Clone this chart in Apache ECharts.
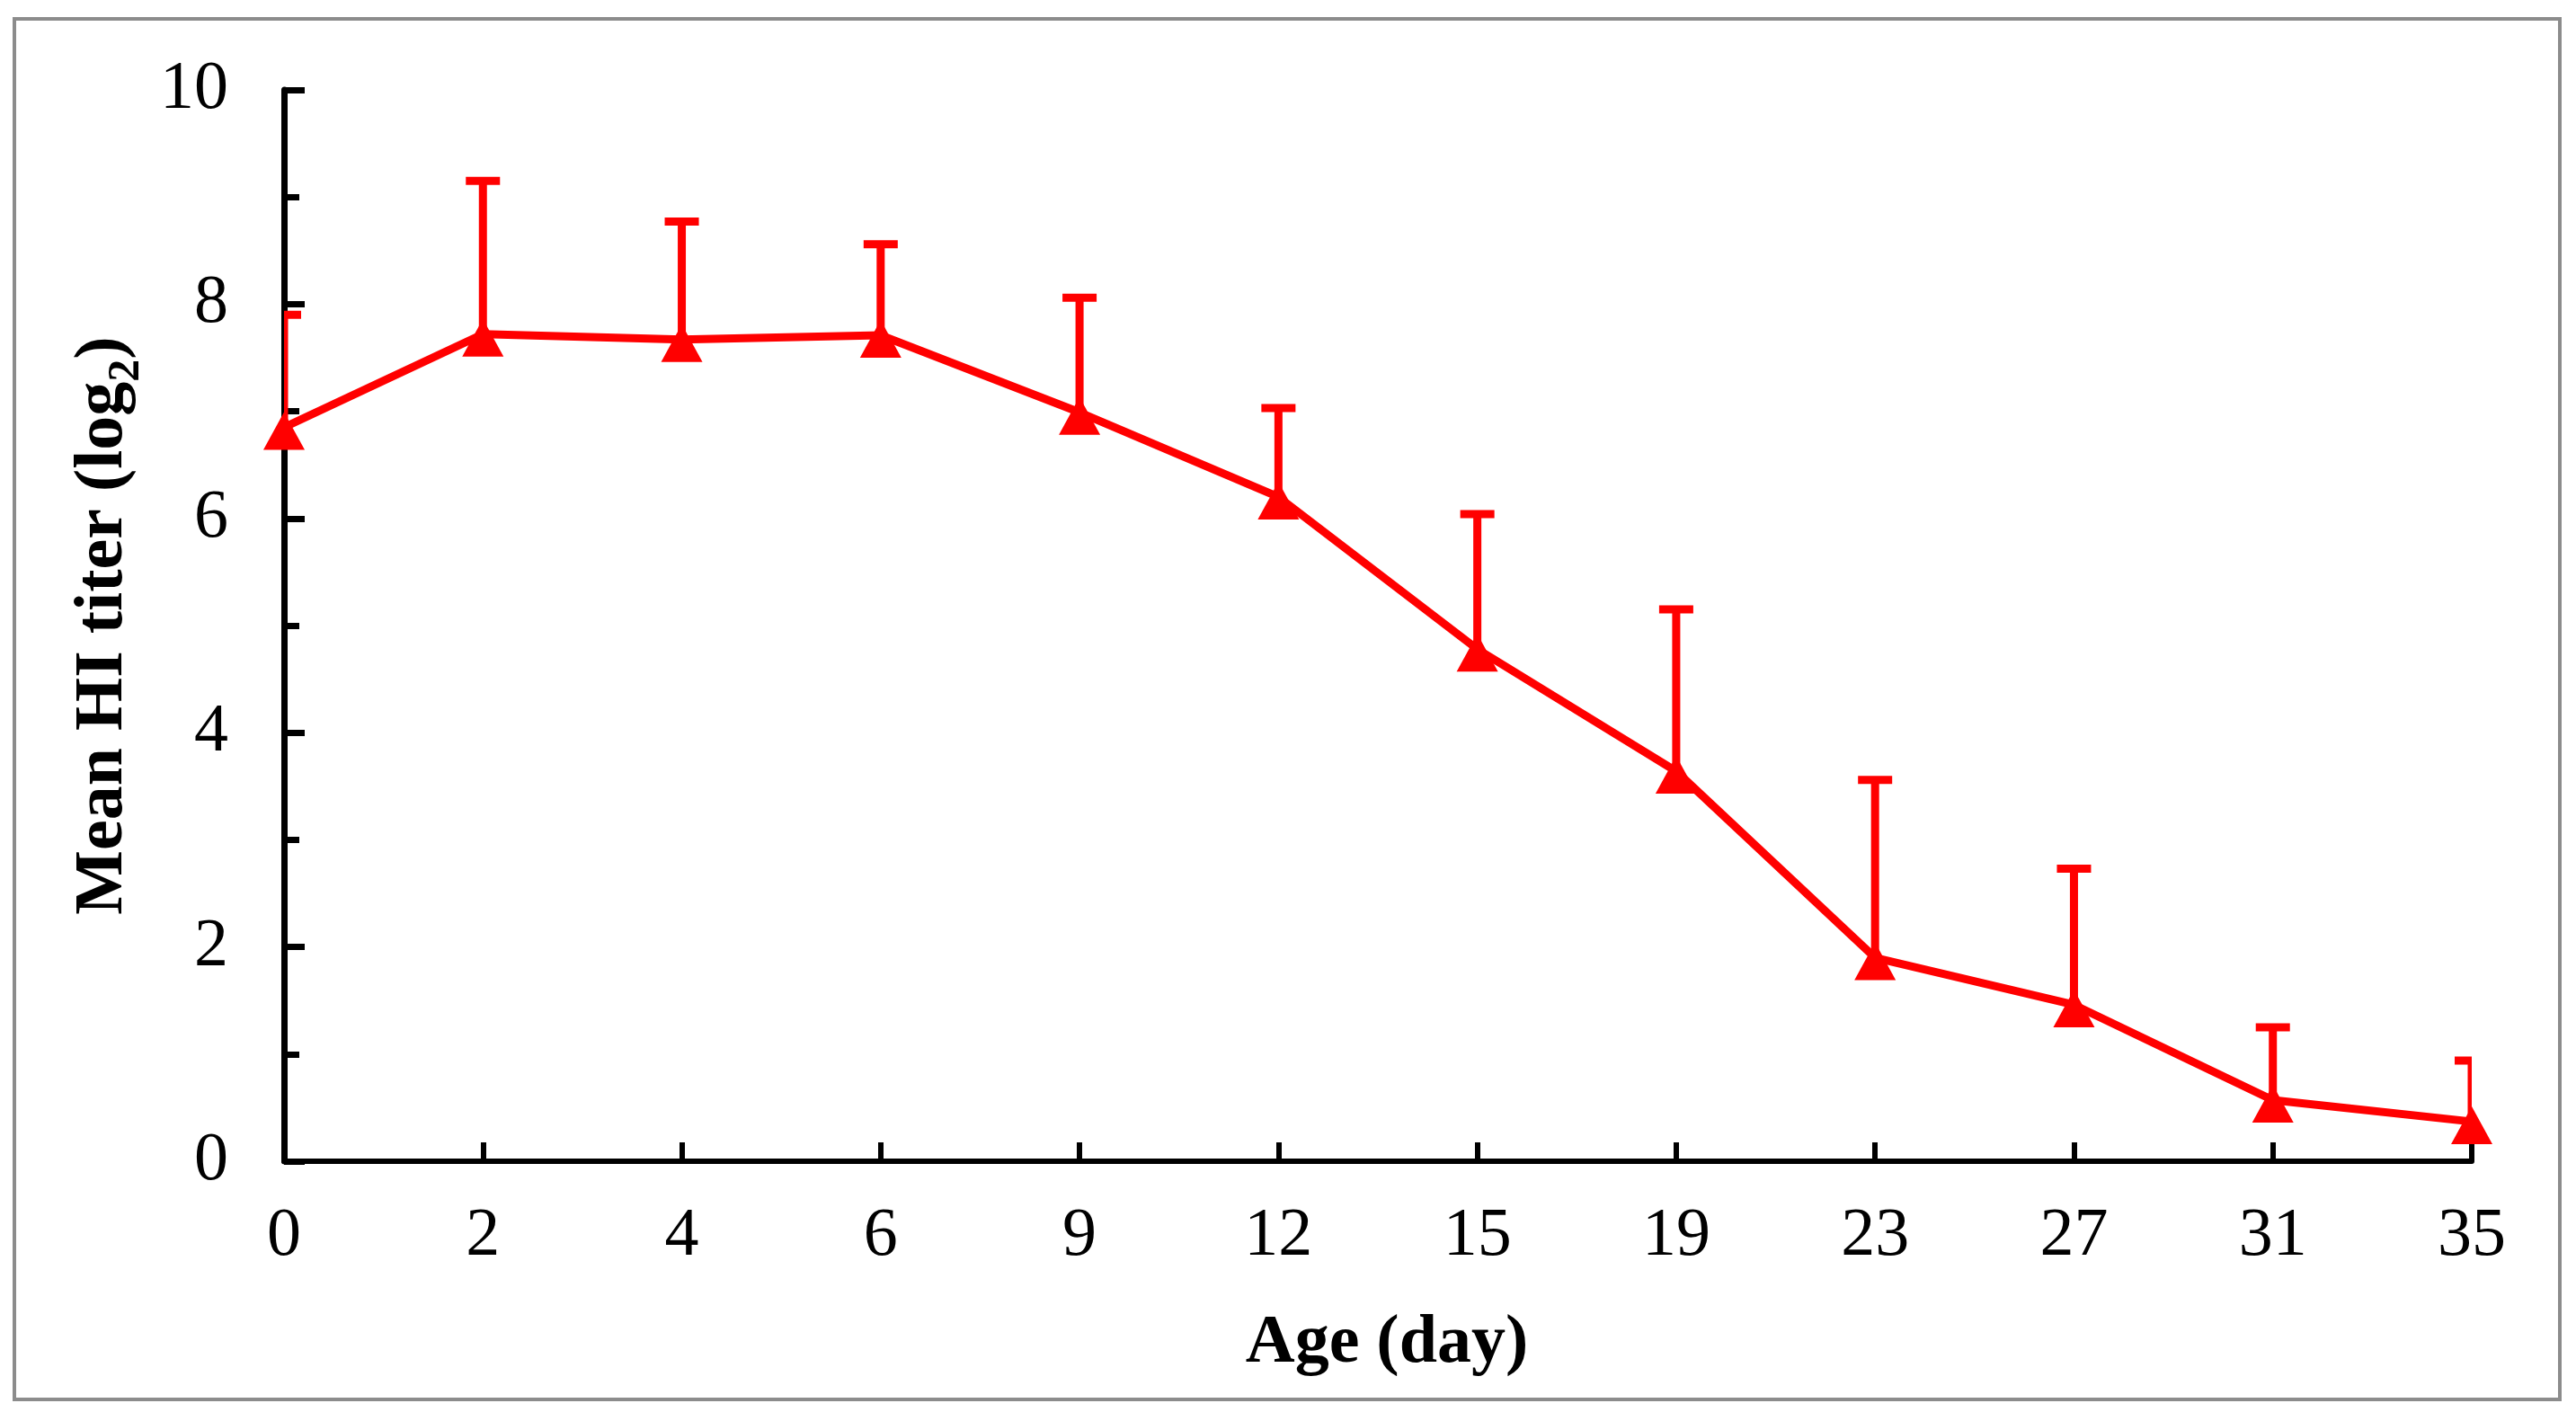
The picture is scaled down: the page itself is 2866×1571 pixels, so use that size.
<!DOCTYPE html>
<html>
<head>
<meta charset="utf-8">
<script src="https://cdn.jsdelivr.net/npm/echarts@6/dist/echarts.min.js"></script>
<style>
html,body{margin:0;padding:0;background:#fff;}
#chart{width:2866px;height:1571px;}
</style>
</head>
<body>
<div id="chart"></div>
<script>
const ageDays = ['0','2','4','6','9','12','15','19','23','27','31','35'];
const meanTiter = [6.85, 7.72, 7.67, 7.71, 6.99, 6.20, 4.78, 3.64, 1.90, 1.46, 0.57, 0.37];
const upperTiter = [7.90, 9.15, 8.77, 8.56, 8.06, 7.03, 6.04, 5.15, 3.56, 2.73, 1.25, 0.94];
const yTicks = [0, 2, 4, 6, 8, 10];

const FONT = 'Liberation Serif';
const RED = '#FF0000';

const errData = ageDays.map((d, i) => [i, meanTiter[i], upperTiter[i]]);

const chart = echarts.init(document.getElementById('chart'));
chart.setOption({
  backgroundColor: '#ffffff',
  animation: false,
  graphic: [{
    type: 'rect',
    shape: {x: 16, y: 21, width: 2832, height: 1536},
    style: {fill: 'none', stroke: '#8c8c8c', lineWidth: 4},
    silent: true
  }],
  grid: {left: 316, top: 100, right: 116, bottom: 279, containLabel: false},
  xAxis: {
    type: 'category',
    data: ageDays,
    boundaryGap: false,
    name: 'Age (day)',
    nameLocation: 'middle',
    nameGap: 165,
    nameTextStyle: {fontFamily: FONT, fontSize: 76, fontWeight: 'bold', color: '#000', padding: [0, 0, 0, 20]},
    axisLine: {lineStyle: {color: '#000', width: 6}},
    axisTick: {show: true, inside: true, length: 21, interval: 0, lineStyle: {color: '#000', width: 6}},
    axisLabel: {fontFamily: FONT, fontSize: 76, color: '#000', margin: 46, interval: 0},
    splitLine: {show: false}
  },
  yAxis: {
    type: 'value',
    min: yTicks[0],
    max: yTicks[yTicks.length - 1],
    interval: 2,
    name: '{b|Mean HI titer (log}{s|2}{b|)}',
    nameLocation: 'middle',
    nameGap: 150,
    nameRotate: 90,
    nameTextStyle: {
      rich: {
        b: {fontFamily: FONT, fontSize: 76, fontWeight: 'bold', color: '#000', lineHeight: 102},
        s: {fontFamily: FONT, fontSize: 50, fontWeight: 'bold', color: '#000', lineHeight: 50, verticalAlign: 'bottom'}
      }
    },
    axisLine: {show: true, lineStyle: {color: '#000', width: 7}},
    axisTick: {show: true, inside: true, length: 23, lineStyle: {color: '#000', width: 7}},
    minorTick: {show: true, splitNumber: 2, length: 17, lineStyle: {color: '#000', width: 7}},
    axisLabel: {fontFamily: FONT, fontSize: 76, color: '#000', margin: 62},
    splitLine: {show: false}
  },
  series: [
    {
      type: 'custom',
      z: 1,
      clip: true,
      data: errData,
      renderItem: function (params, api) {
        const x = api.value(0);
        const p0 = api.coord([x, api.value(1)]);
        const p1 = api.coord([x, api.value(2)]);
        const half = 19;
        return {
          type: 'group',
          children: [
            {type: 'line', shape: {x1: p0[0], y1: p0[1], x2: p1[0], y2: p1[1]}, style: {stroke: RED, lineWidth: 9}},
            {type: 'line', shape: {x1: p1[0] - half, y1: p1[1], x2: p1[0] + half, y2: p1[1]}, style: {stroke: RED, lineWidth: 9}}
          ]
        };
      }
    },
    {
      type: 'line',
      z: 3,
      data: meanTiter,
      symbol: 'triangle',
      symbolSize: [46, 42],
      symbolOffset: [0, 4],
      showAllSymbol: true,
      lineStyle: {color: RED, width: 9},
      itemStyle: {color: RED},
      clip: false
    }
  ]
});
</script>
</body>
</html>
